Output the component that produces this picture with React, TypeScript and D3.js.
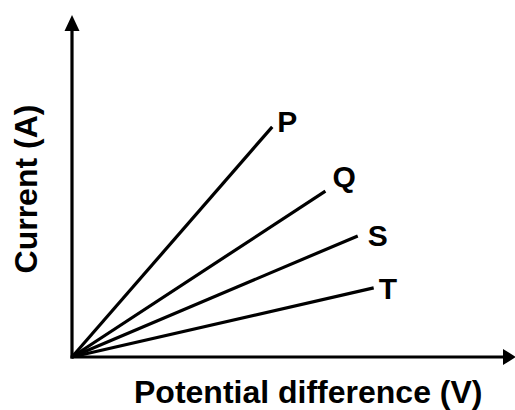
import React, { useEffect, useRef } from 'react';
import * as d3 from 'd3';

// line names and their end points (arbitrary units, 0-100 on each axis)
const lineNames = ['P', 'Q', 'S', 'T'];
const endVoltage = [45.2, 57.2, 64.5, 68.1];
const endCurrent = [67.3, 48.5, 35.4, 20.2];

const xLabel = 'Potential difference (V)';
const yLabel = 'Current (A)';

// label offsets from each line's end (px)
const labelOffsets = [[5, 5], [7, -4], [10, 10], [5, 11]];

const App = () => {
    const ref = useRef<SVGSVGElement>(null);

    useEffect(() => {
        const svgWidth = 515;
        const svgHeight = 410;
        const margin = { top: 15, right: 0, bottom: 53, left: 72 };

        const x = d3.scaleLinear()
            .domain([0, 100])
            .range([margin.left, svgWidth - margin.right]);

        const y = d3.scaleLinear()
            .domain([0, 100])
            .range([svgHeight - margin.bottom, margin.top]);

        const svg = d3.select(ref.current)
            .attr('width', svgWidth)
            .attr('height', svgHeight);

        svg.selectAll('*').remove();

        svg.append('rect')
            .attr('width', svgWidth)
            .attr('height', svgHeight)
            .attr('fill', '#fff');

        const x0 = x(0), y0 = y(0);
        const xEnd = x(100), yEnd = y(100);

        // axes
        svg.append('line')
            .attr('x1', x0 - 1.5).attr('y1', y0)
            .attr('x2', xEnd - 8).attr('y2', y0)
            .attr('stroke', '#000').attr('stroke-width', 3.2);
        svg.append('line')
            .attr('x1', x0).attr('y1', y0 + 1.5)
            .attr('x2', x0).attr('y2', yEnd + 12)
            .attr('stroke', '#000').attr('stroke-width', 3.2);

        // arrow heads
        svg.append('path')
            .attr('d', `M${x0},${yEnd} L${x0 - 7.5},${yEnd + 16} L${x0 + 7.5},${yEnd + 16} Z`)
            .attr('fill', '#000');
        svg.append('path')
            .attr('d', `M${xEnd + 1},${y0} L${xEnd - 12},${y0 - 8} L${xEnd - 12},${y0 + 8} Z`)
            .attr('fill', '#000');

        const lines = lineNames.map((name, i) => ({
            name,
            v: endVoltage[i],
            c: endCurrent[i],
            off: labelOffsets[i]
        }));

        svg.append('g')
            .selectAll('line')
            .data(lines)
            .join('line')
                .attr('x1', x0)
                .attr('y1', y0)
                .attr('x2', d => x(d.v))
                .attr('y2', d => y(d.c))
                .attr('stroke', '#000')
                .attr('stroke-width', 3.2);

        const font = '"Liberation Sans", Arial, Helvetica, sans-serif';

        svg.append('g')
            .selectAll('text')
            .data(lines)
            .join('text')
                .attr('x', d => x(d.v) + d.off[0])
                .attr('y', d => y(d.c) + d.off[1])
                .attr('font-family', font)
                .attr('font-weight', 'bold')
                .attr('font-size', 30)
                .text(d => d.name);

        svg.append('text')
            .attr('x', 134)
            .attr('y', 403)
            .attr('font-family', font)
            .attr('font-weight', 'bold')
            .attr('font-size', 32)
            .text(xLabel);

        svg.append('text')
            .attr('transform', 'translate(37,189) rotate(-90)')
            .attr('text-anchor', 'middle')
            .attr('font-family', font)
            .attr('font-weight', 'bold')
            .attr('font-size', 32)
            .text(yLabel);
    }, []);

    return (
        <svg ref={ref} style={{ position: 'absolute', left: 0, top: 0, display: 'block' }} />
    );
};

export default App;
